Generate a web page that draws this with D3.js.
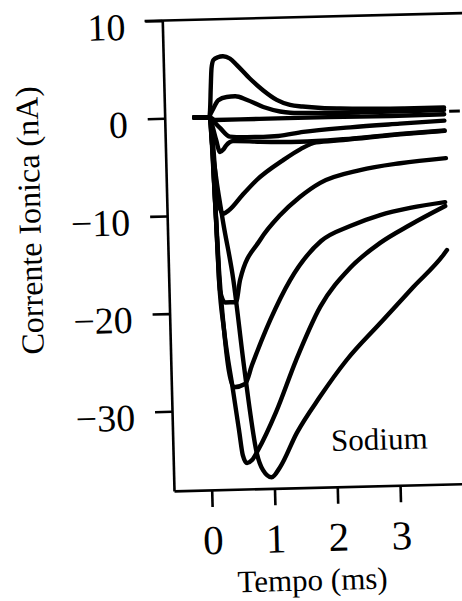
<!DOCTYPE html>
<html>
<head>
<meta charset="utf-8">
<script src="https://cdn.jsdelivr.net/npm/d3@7"></script>
<style>
  html, body { margin: 0; padding: 0; background: #fff; }
  svg { display: block; }
</style>
</head>
<body>
<svg id="chart" width="462" height="601"></svg>
<script>
// Voltage-clamp sodium currents: each trace is a list of [time (ms), current (nA)]
const outwardLarge = [[-0.13,0],[0.11,0],[0.125,0.7],[0.145,3.0],[0.165,5.0],[0.2,5.85],[0.27,6.1],[0.35,6.2],[0.46,5.95],[0.57,5.25],[0.77,3.85],[0.98,2.6],[1.19,1.6],[1.4,1.05],[1.6,0.85],[1.9,0.65],[2.2,0.55],[2.7,0.45],[3.2,0.4],[3.85,0.4]];
const outwardSmall = [[-0.13,0],[0.11,0],[0.13,0.3],[0.177,0.86],[0.26,1.7],[0.395,2.02],[0.53,2.07],[0.71,1.69],[0.975,0.9],[1.24,0.4],[1.4,0.25],[1.8,0.15],[2.5,0.1],[3.2,0.1],[3.85,0.15]];
const nearReversal = [[-0.13,0],[0.11,0],[0.2,-0.3],[0.6,-0.3],[1.2,-0.3],[2.0,-0.3],[3.0,-0.35],[3.85,-0.3]];
const inward2 = [[-0.13,0],[0.12,-0.05],[0.2,-0.6],[0.28,-1.15],[0.43,-2.05],[0.7,-2.15],[0.96,-2.15],[1.2,-2.1],[1.6,-1.75],[2.35,-1.4],[3.14,-1.15],[3.85,-0.95]];
const inward4 = [[-0.13,0],[0.12,-0.05],[0.16,-1.0],[0.21,-2.35],[0.266,-3.6],[0.32,-3.35],[0.365,-2.95],[0.48,-2.5],[0.91,-2.65],[1.54,-2.75],[2.23,-2.6],[3.14,-2.2],[3.85,-1.97]];
const inward10 = [[-0.13,0],[0.12,-0.05],[0.148,-1.3],[0.18,-5.4],[0.23,-9.0],[0.29,-9.9],[0.4,-9.5],[0.6,-8.1],[0.84,-6.55],[1.27,-4.58],[1.55,-3.5],[1.8,-2.85],[2.23,-2.68],[3.14,-2.25],[3.85,-2.0]];
const inward19 = [[-0.13,0],[0.12,-0.05],[0.146,-1.8],[0.16,-6.4],[0.185,-12.6],[0.21,-17.7],[0.287,-19.0],[0.46,-19.0],[0.535,-16.75],[0.87,-12.7],[1.2,-10.2],[1.52,-8.4],[1.85,-7.0],[2.49,-5.8],[3.13,-5.2],[3.86,-4.8]];
const inward28 = [[-0.13,0],[0.12,-0.05],[0.143,-2.3],[0.169,-8.5],[0.204,-15.7],[0.26,-21.8],[0.323,-26.1],[0.397,-27.7],[0.573,-27.4],[0.69,-25.5],[1.0,-20.9],[1.33,-16.9],[1.84,-12.96],[2.31,-11.5],[2.79,-10.45],[3.27,-9.8],[3.83,-9.3]];
const inward35 = [[-0.13,0],[0.12,-0.05],[0.142,-2.9],[0.177,-10.5],[0.2,-16.7],[0.26,-21.8],[0.379,-28.0],[0.459,-32.1],[0.51,-34.7],[0.573,-35.5],[0.654,-35.2],[0.753,-34.2],[1.055,-30.35],[1.394,-25.1],[1.8,-19.7],[2.29,-15.8],[2.78,-13.3],[3.26,-11.55],[3.83,-9.7]];
const inward37 = [[-0.13,0],[0.12,-0.05],[0.14,-2.5],[0.2,-6.5],[0.25,-9.0],[0.291,-10.9],[0.428,-16.7],[0.564,-25.6],[0.733,-34.5],[0.825,-36.25],[0.96,-37.0],[1.097,-36.0],[1.376,-32.55],[1.76,-28.9],[2.2,-25.2],[2.75,-21.5],[3.29,-17.9],[3.78,-14.7],[3.84,-14.2]];

const traces = [outwardLarge, outwardSmall, nearReversal, inward2, inward4, inward10, inward19, inward28, inward35, inward37];

const xTicks = [0, 1, 2, 3];
const yTicks = [10, 0, -10, -20, -30];
const zeroMark = [3.93, 4.1];   // short dashed zero-current reference at the right end

const xLabel = "Tempo (ms)";
const yLabel = "Corrente Ionica (nA)";
const panelLabel = "Sodium";

const serif = "'Liberation Serif', 'Times New Roman', serif";

const x = d3.scaleLinear().domain([-0.6, 4.2]).range([164.7, 466.2]);
const y = d3.scaleLinear().domain([10, -38.15]).range([20.6, 491]);

const svg = d3.select("#chart");
svg.append("rect").attr("width", 462).attr("height", 601).attr("fill", "#fff");

// the printed figure sits slightly tilted on the page
const root = svg.append("g").attr("transform", "rotate(-1.43,164,118.3)");

const fmt = d => d < 0 ? "\u2212" + Math.abs(d) : String(d);

// top rule of the frame
root.append("line")
  .attr("x1", 147).attr("x2", x.range()[1])
  .attr("y1", y(10)).attr("y2", y(10))
  .attr("stroke", "#000").attr("stroke-width", 2.6);

// y axis
const gy = root.append("g")
  .attr("transform", `translate(${x.range()[0]},0)`)
  .call(d3.axisLeft(y).tickValues(yTicks).tickSize(17).tickSizeOuter(0).tickPadding(20).tickFormat(fmt));
gy.select(".domain").attr("stroke-width", 2.6);
gy.selectAll(".tick line").attr("stroke-width", 2.6);
gy.selectAll(".tick text")
  .attr("font-family", serif).attr("font-size", 38).attr("dy", "0.47em").attr("fill", "#000");

// x axis
const gx = root.append("g")
  .attr("transform", `translate(0,${y.range()[1]})`)
  .call(d3.axisBottom(x).tickValues(xTicks).tickSize(17).tickSizeOuter(0).tickPadding(18).tickFormat(fmt));
gx.select(".domain").attr("stroke-width", 2.6);
gx.selectAll(".tick line").attr("stroke-width", 2.6);
gx.selectAll(".tick text")
  .attr("font-family", serif).attr("font-size", 41).attr("fill", "#000");

// current traces
const line = d3.line()
  .x(d => x(d[0]))
  .y(d => y(d[1]))
  .curve(d3.curveMonotoneX);

root.append("g")
  .selectAll("path")
  .data(traces)
  .join("path")
  .attr("d", line)
  .attr("fill", "none")
  .attr("stroke", "#000")
  .attr("stroke-width", 4.4)
  .attr("stroke-linejoin", "round")
  .attr("stroke-linecap", "round");

root.append("line")
  .attr("x1", x(zeroMark[0])).attr("x2", x(zeroMark[1]))
  .attr("y1", y(0)).attr("y2", y(0))
  .attr("stroke", "#000").attr("stroke-width", 3);

// labels
root.append("text")
  .attr("x", 301).attr("y", 594)
  .attr("text-anchor", "middle")
  .attr("font-family", serif).attr("font-size", 31)
  .text(xLabel);

root.append("text")
  .attr("transform", "translate(38,217) rotate(-90)")
  .attr("text-anchor", "middle")
  .attr("font-family", serif).attr("font-size", 32)
  .text(yLabel);

root.append("text")
  .attr("x", 323).attr("y", 455)
  .attr("font-family", serif).attr("font-size", 31)
  .text(panelLabel);
</script>
</body>
</html>
